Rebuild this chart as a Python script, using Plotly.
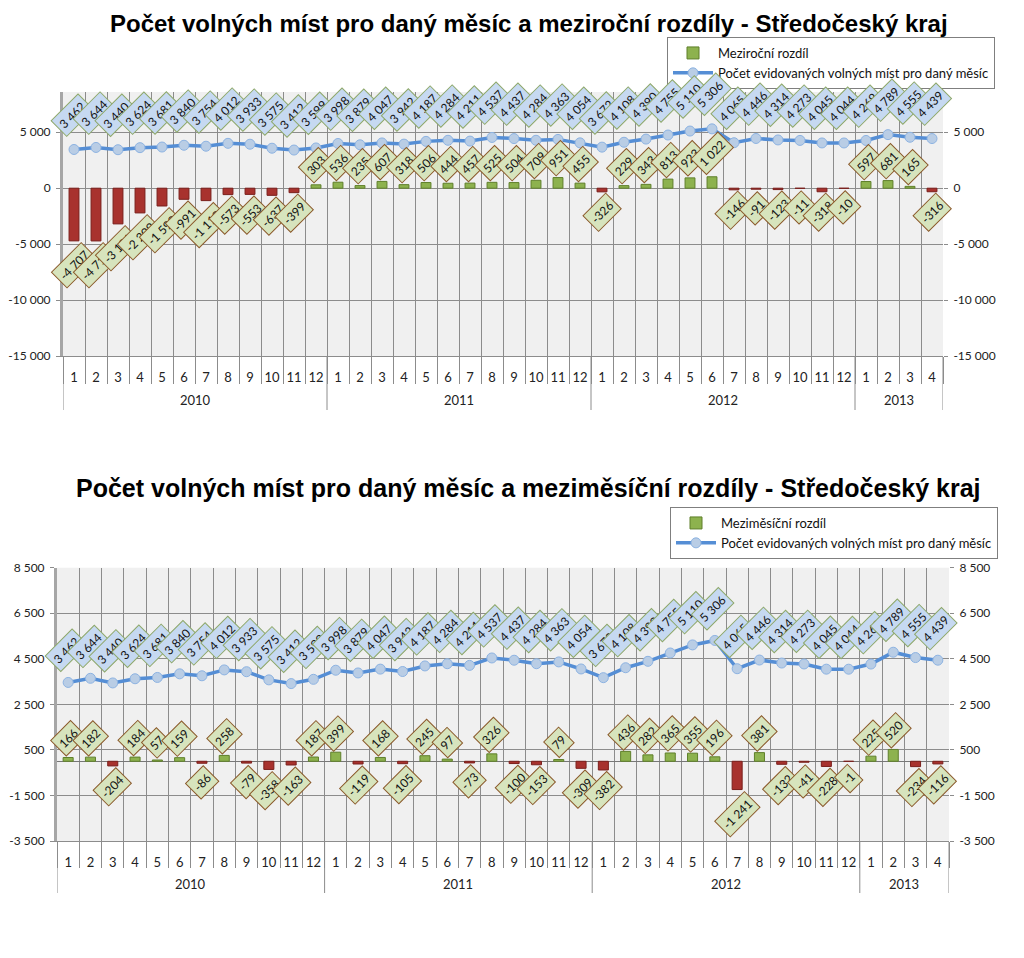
import plotly.graph_objects as go

# months Jan 2010 .. Apr 2013
month_labels = ["1", "2", "3", "4", "5", "6", "7", "8", "9", "10", "11", "12"] * 3 + ["1", "2", "3", "4"]
years = ["2010", "2011", "2012", "2013"]
year_months = [12, 12, 12, 4]

vacancies = [3462, 3644, 3440, 3624, 3681, 3840, 3754, 4012, 3933, 3575, 3412, 3599,
             3998, 3879, 4047, 3942, 4187, 4284, 4211, 4537, 4437, 4284, 4363, 4054,
             3672, 4108, 4390, 4755, 5110, 5306, 4065, 4446, 4314, 4273, 4045, 4044,
             4269, 4789, 4555, 4439]

yoy_diff = [-4707, -4713, -3191, -2209, -1590, -991, -1110, -573, -553, -637, -399, 303,
            536, 235, 607, 318, 506, 444, 457, 525, 504, 709, 951, 455,
            -326, 229, 343, 813, 923, 1022, -146, -91, -123, -11, -318, -10,
            597, 681, 165, -316]

mom_diff = [166, 182, -204, 184, 57, 159, -86, 258, -79, -358, -163, 187,
            399, -119, 168, -105, 245, 97, -73, 326, -100, -153, 79, -309,
            -382, 436, 282, 365, 355, 196, -1241, 381, -132, -41, -228, -1,
            225, 520, -234, -116]

top_ticks = [-15000, -10000, -5000, 0, 5000]
bottom_ticks = [-3500, -1500, 500, 2500, 4500, 6500, 8500]

# the page body has an 8px margin, so the figure is drawn 8px in from the corner
OFF = 8
W, H = 1024 - OFF, 958 - OFF
FONT = "Lato, Carlito, 'Liberation Sans', sans-serif"
TITLE_FONT = "'Liberation Sans', Arial, sans-serif"
GRID = "#8c8c8c"


def px(x):
    return (x - OFF) / W


def py(y):
    return 1 - (y - OFF) / H


def fmt(v):
    s = f"{abs(v):,}".replace(",", " ")
    return "-" + s if v < 0 else s


idx = list(range(len(vacancies)))
fig = go.Figure()
annotations = []
shapes = []


def add_chart(diff, bar_name, xa, ya, ya2, legend, line_shift):
    pos = [(i, v) for i, v in zip(idx, diff) if v >= 0]
    neg = [(i, v) for i, v in zip(idx, diff) if v < 0]
    fig.add_trace(go.Bar(x=[p[0] for p in pos], y=[p[1] for p in pos], width=0.45,
                         xaxis=xa, yaxis=ya, name=bar_name, legend=legend,
                         marker=dict(color="#8db24e", line=dict(color="#5f7f2b", width=1))))
    fig.add_trace(go.Bar(x=[p[0] for p in neg], y=[p[1] for p in neg], width=0.45,
                         xaxis=xa, yaxis=ya, name=bar_name, legend=legend, showlegend=False,
                         marker=dict(color="#a8322e", line=dict(color="#7a1f1c", width=1))))
    fig.add_trace(go.Scatter(x=idx, y=vacancies, xaxis=xa, yaxis=ya2, mode="lines+markers",
                             name="Počet evidovaných volných míst pro daný měsíc", legend=legend,
                             line=dict(color="#558ed5", width=3.5),
                             marker=dict(symbol="circle", size=10, color="#b9cde5",
                                         line=dict(color="#8db3e2", width=1))))
    for i, v in zip(idx, diff):
        t = fmt(v)
        off = 13 + 2 * len(t)
        annotations.append(dict(x=i, y=v, xref=xa, yref=ya, text=t, showarrow=False,
                                textangle=-45, yshift=off if v >= 0 else -off,
                                font=dict(family=FONT, size=12, color="#111"),
                                bgcolor="#d7e4bd", bordercolor="#8b5a2b", borderwidth=1, borderpad=3))
    for i, v in zip(idx, vacancies):
        annotations.append(dict(x=i, y=v, xref=xa, yref=ya2, text=fmt(v), showarrow=False,
                                textangle=-45, yshift=line_shift, xshift=-2,
                                font=dict(family=FONT, size=12, color="#111"),
                                bgcolor="#c6d9f1", bordercolor="#8ea86a", borderwidth=1, borderpad=3))


add_chart(yoy_diff, "Meziroční rozdíl", "x", "y", "y2", "legend", 34)
add_chart(mom_diff, "Meziměsíční rozdíl", "x2", "y3", "y4", "legend2", 32)

# year labels and separators below each chart
for xr, y_bottom, y_sep, y_lab in [("x", 356, 410, 400), ("x2", 841, 893, 884)]:
    start = 0
    for yr, n in zip(years, year_months):
        annotations.append(dict(x=start + (n - 1) / 2, y=py(y_lab), xref=xr, yref="paper",
                                yanchor="middle", text=yr, showarrow=False,
                                font=dict(family=FONT, size=13, color="#222")))
        start += n
    b = -0.5
    for n in [0] + year_months:
        b += n
        shapes.append(dict(type="line", xref=xr, yref="paper", x0=b, x1=b,
                           y0=py(y_bottom), y1=py(y_sep), line=dict(color=GRID, width=1)))

# titles
annotations.append(dict(x=px(529), y=py(23), xref="paper", yref="paper", showarrow=False,
                        xanchor="center", yanchor="middle",
                        text="<b>Počet volných míst pro daný měsíc a meziroční rozdíly - Středočeský kraj</b>",
                        font=dict(family=TITLE_FONT, size=24, color="#000")))
annotations.append(dict(x=px(528), y=py(488), xref="paper", yref="paper", showarrow=False,
                        xanchor="center", yanchor="middle",
                        text="<b>Počet volných míst pro daný měsíc a meziměsíční rozdíly - Středočeský kraj</b>",
                        font=dict(family=TITLE_FONT, size=25, color="#000")))


def xaxis_cfg(domain, anchor, minor_len):
    return dict(domain=domain, anchor=anchor, range=[-0.5, 39.5], tickmode="array",
                tickvals=idx, ticktext=month_labels, ticks="", showgrid=False, zeroline=False,
                showline=True, linecolor=GRID, ticklabelstandoff=9, automargin=False,
                tickfont=dict(family=FONT, size=13, color="#222"),
                minor=dict(tickmode="array", tickvals=[i - 0.5 for i in range(41)], showgrid=True,
                           gridcolor=GRID, gridwidth=1, ticks="outside", ticklen=minor_len,
                           tickcolor=GRID))


def yaxis_cfg(domain, anchor, rng, ticks, side="left", overlay=None, zero=False):
    cfg = dict(anchor=anchor, range=rng, tickmode="array", tickvals=ticks,
               ticktext=[fmt(t) for t in ticks], side=side, ticks="outside", ticklen=4,
               tickcolor=GRID, automargin=False, ticklabelstandoff=3,
               tickfont=dict(family=FONT, size=12, color="#222"))
    if overlay:
        cfg.update(overlaying=overlay, showgrid=False, zeroline=False, showline=False)
    else:
        cfg.update(domain=domain, showgrid=True, gridcolor=GRID, gridwidth=1,
                   zeroline=zero, zerolinecolor="#777777", zerolinewidth=1,
                   showline=True, linecolor="#a6a6a6", linewidth=3)
    return cfg


top_dom = [py(356), py(92)]
bot_dom = [py(841), py(567.7)]

legend_cfg = dict(xanchor="left", yanchor="top", bgcolor="white", bordercolor="#7f7f7f",
                  borderwidth=1, font=dict(family=FONT, size=13, color="#111"),
                  tracegroupgap=0, itemwidth=40)

fig.update_layout(
    template="none",
    width=W, height=H, margin=dict(l=0, r=0, t=0, b=0, autoexpand=False),
    paper_bgcolor="white", plot_bgcolor="#f0f0f0", barmode="overlay",
    font=dict(family=FONT, size=12, color="#222"),
    xaxis=xaxis_cfg([px(63), px(943)], "y", 27),
    yaxis=yaxis_cfg(top_dom, "x", [-15000, 8600], top_ticks),
    yaxis2=yaxis_cfg(None, "x", [-15000, 8600], top_ticks, side="right", overlay="y"),
    xaxis2=xaxis_cfg([px(57), px(949)], "y3", 26),
    yaxis3=yaxis_cfg(bot_dom, "x2", [-3500, 8500], bottom_ticks, zero=True),
    yaxis4=yaxis_cfg(None, "x2", [-3500, 8500], bottom_ticks, side="right", overlay="y3"),
    legend=dict(x=px(667), y=py(37), **legend_cfg),
    legend2=dict(x=px(670), y=py(507), **legend_cfg),
    annotations=annotations,
    shapes=shapes,
)

fig.write_html("out.html")
